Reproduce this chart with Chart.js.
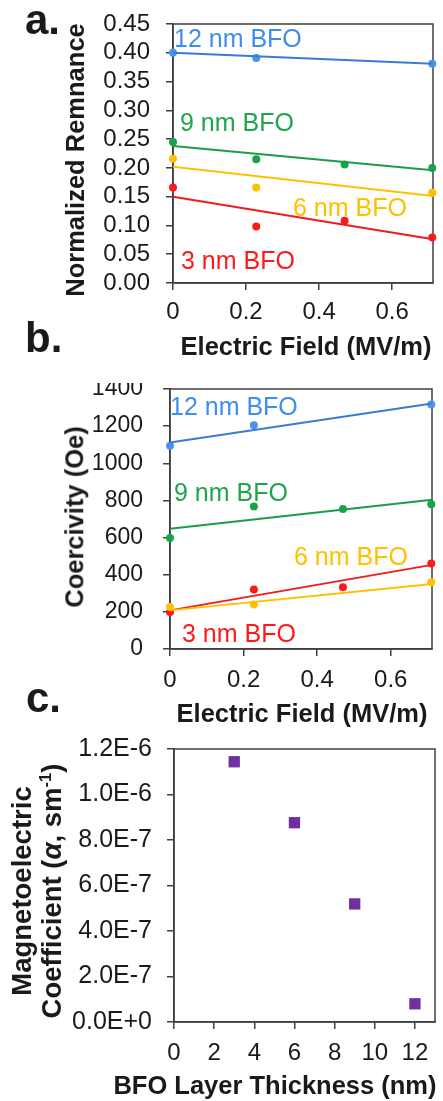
<!DOCTYPE html>
<html>
<head>
<meta charset="utf-8">
<script src="https://cdn.jsdelivr.net/npm/chart.js@4.4.0/dist/chart.umd.min.js"></script>
<style>
  body { margin: 0; background: #fff; width: 443px; height: 1101px; overflow: hidden; position: relative;
         font-family: 'Liberation Sans', Arial, sans-serif; color: #1a1a1a; }
  canvas { position: absolute; left: 0; }
  .t { position: absolute; white-space: nowrap; }
  .panel { font-weight: bold; font-size: 42px; line-height: 42px; }
  .note { font-size: 25px; line-height: 25px; }
  .xt { font-weight: bold; font-size: 25.5px; line-height: 25.5px; transform: translateX(-50%); }
  .yt { font-weight: bold; font-size: 25.5px; line-height: 25.5px; transform: translate(-50%, -50%) rotate(-90deg); }
</style>
</head>
<body>

<canvas id="chartA" width="443" height="365" style="top:0px"></canvas>
<canvas id="chartB" width="443" height="337" style="top:383px"></canvas>
<canvas id="chartC" width="443" height="376" style="top:725px"></canvas>

<!-- panel letters -->
<div class="t panel" style="left:25px; top:-1px">a.</div>
<div class="t panel" style="left:25px; top:317px">b.</div>
<div class="t panel" style="left:26px; top:677px">c.</div>

<!-- axis titles -->
<div class="t yt" style="left:76px; top:160px">Normalized Remnance</div>
<div class="t xt" style="left:306px; top:334px">Electric Field (MV/m)</div>
<div class="t yt" style="left:75px; top:517px">Coercivity (Oe)</div>
<div class="t xt" style="left:302px; top:701px">Electric Field (MV/m)</div>
<div class="t yt" style="left:38px; top:891px; font-size:27.5px; line-height:30px; text-align:center">Magnetoelectric<br>Coefficient (<i>α</i>, sm<span style="font-size:60%; position:relative; top:-0.6em">-1</span>)</div>
<div class="t xt" style="left:275px; top:1073px">BFO Layer Thickness (nm)</div>

<!-- series labels -->
<div class="t note" style="left:174px; top:26px; color:#3d8fec">12 nm BFO</div>
<div class="t note" style="left:180px; top:110px; color:#1fa64d">9 nm BFO</div>
<div class="t note" style="left:293px; top:195px; color:#ffc000">6 nm BFO</div>
<div class="t note" style="left:181px; top:248px; color:#ff1a1a">3 nm BFO</div>
<div class="t note" style="left:170px; top:394px; color:#3d8fec">12 nm BFO</div>
<div class="t note" style="left:174px; top:480px; color:#1fa64d">9 nm BFO</div>
<div class="t note" style="left:294px; top:544px; color:#ffc000">6 nm BFO</div>
<div class="t note" style="left:182px; top:621px; color:#ff1a1a">3 nm BFO</div>

<script>
// Applied electric field (MV/m), same steps for both field panels
var field = [0, 0.228, 0.47, 0.71];
// x range covered by the fitted trend lines
var fitField = [0, 0.712];

// a. Normalized remnance, order: 12, 9, 6, 3 nm BFO
var remnance12 = [0.400, 0.391, null, 0.381];
var remnance9  = [0.245, 0.215, 0.206, 0.200];
var remnance6  = [0.216, 0.166, null, 0.157];
var remnance3  = [0.166, 0.098, 0.108, 0.079];
// trend line values at start / end of fitField
var remnanceFit12 = [0.400, 0.381];
var remnanceFit9  = [0.238, 0.196];
var remnanceFit6  = [0.202, 0.151];
var remnanceFit3  = [0.150, 0.076];

// b. Coercivity (Oe)
var coercivity12 = [1095, 1205, null, 1316];
var coercivity9  = [598, 767, 754, 779];
var coercivity6  = [226, 239, null, 359];
var coercivity3  = [199, 320, 332, 461];
var coercivityFit12 = [1112, 1322];
var coercivityFit9  = [648, 804];
var coercivityFit6  = [208, 350];
var coercivityFit3  = [208, 453];

// c. Magnetoelectric coefficient vs BFO thickness
var thickness = [3, 6, 9, 12];
var meCoefficient = [1.144e-6, 0.876e-6, 0.519e-6, 0.080e-6];

// Colours: blue, green, yellow, red
var pointColors = ['#4c93ee', '#17a34a', '#ffc000', '#ff1a1a'];
var lineColors  = ['#3a7bd5', '#1c9e48', '#ffc000', '#ee1c1c'];
var axisColor = '#3f3f3f';
var tickFont = { family: "'Liberation Sans', Arial, sans-serif", size: 24 };


// Box around the plot area (drawn under the markers)
var frame = {
    id: 'frame',
    beforeDatasetsDraw: function (chart) {
        var a = chart.chartArea;
        var ctx = chart.ctx;
        ctx.save();
        ctx.strokeStyle = axisColor;
        ctx.lineWidth = 1.5;
        ctx.strokeRect(a.left, a.top, a.right - a.left, a.bottom - a.top);
        ctx.restore();
    }
};


// Builds trend line + marker datasets for one field panel
function fieldDatasets(values, fits) {
    var sets = [];
    for (var i = 0; i < values.length; i++) {
        var pts = [];
        for (var j = 0; j < field.length; j++) {
            if (values[i][j] !== null) {
                pts.push({ x: field[j], y: values[i][j] });
            }
        }
        sets.push({
            data: [{ x: fitField[0], y: fits[i][0] }, { x: fitField[1], y: fits[i][1] }],
            showLine: true,
            borderColor: lineColors[i],
            borderWidth: 2,
            pointRadius: 0,
            clip: false
        });
        sets.push({
            data: pts,
            showLine: false,
            pointRadius: 4,
            pointBorderWidth: 0,
            backgroundColor: pointColors[i],
            clip: false
        });
    }
    return sets;
}


// Shared axis setup; box = exact sizes of the axis areas
function axis(opts, box) {
    return {
        type: 'linear',
        min: opts.min,
        max: opts.max,
        grid: { drawOnChartArea: false, drawTicks: true, tickLength: 7, color: axisColor, lineWidth: 1.5 },
        border: { display: true, color: axisColor, width: 1.5 },
        ticks: {
            stepSize: opts.step,
            includeBounds: false,
            autoSkip: false,
            maxRotation: 0,
            padding: opts.padding,
            color: '#1a1a1a',
            font: { family: tickFont.family, size: opts.fontSize || tickFont.size },
            callback: opts.format
        },
        afterFit: function (s) {
            if (box.width) { s.width = box.width; s.paddingTop = 0; s.paddingBottom = 0; }
            if (box.height) { s.height = box.height; s.paddingLeft = 0; s.paddingRight = 0; }
        }
    };
}


function makeChart(id, datasets, xOpts, yOpts, padding, xHeight, yWidth) {
    var ctx = document.getElementById(id).getContext('2d');
    return new Chart(ctx, {
        type: 'scatter',
        data: { datasets: datasets },
        plugins: [frame],
        options: {
            responsive: false,
            animation: false,
            devicePixelRatio: 1,
            layout: { padding: padding },
            plugins: { legend: { display: false }, tooltip: { enabled: false } },
            scales: {
                x: axis(xOpts, { height: xHeight }),
                y: axis(yOpts, { width: yWidth })
            }
        }
    });
}


var fieldTicks = function (v) { return String(+v.toFixed(1)); };

// a. Normalized remnance
makeChart('chartA',
    fieldDatasets([remnance12, remnance9, remnance6, remnance3],
                  [remnanceFit12, remnanceFit9, remnanceFit6, remnanceFit3]),
    { min: 0, max: 0.712, step: 0.2, padding: 8, format: fieldTicks },
    { min: 0, max: 0.45, step: 0.05, padding: 16, format: function (v) { return v.toFixed(2); } },
    { left: 0, top: 24, right: 10, bottom: 0 }, 82, 173);

// b. Coercivity
makeChart('chartB',
    fieldDatasets([coercivity12, coercivity9, coercivity6, coercivity3],
                  [coercivityFit12, coercivityFit9, coercivityFit6, coercivityFit3]),
    { min: 0, max: 0.712, step: 0.2, padding: 10, format: fieldTicks },
    { min: 0, max: 1400, step: 200, padding: 20, fontSize: 23, format: function (v) { return String(v); } },
    { left: 0, top: 6, right: 11, bottom: 0 }, 71, 170);

// c. Magnetoelectric coefficient
var meSet = [];
for (var k = 0; k < thickness.length; k++) {
    meSet.push({ x: thickness[k], y: meCoefficient[k] });
}
makeChart('chartC',
    [{ data: meSet, pointStyle: 'rect', pointRadius: 8, pointBorderWidth: 0, backgroundColor: '#7030a0', clip: false }],
    { min: 0, max: 13, step: 2, padding: 10, format: function (v) { return String(v); } },
    { min: 0, max: 1.2e-6, step: 2e-7, padding: 15, fontSize: 25, format: function (v) { return v.toExponential(1).toUpperCase(); } },
    { left: 0, top: 24, right: 6, bottom: 0 }, 79, 174);
</script>
</body>
</html>
